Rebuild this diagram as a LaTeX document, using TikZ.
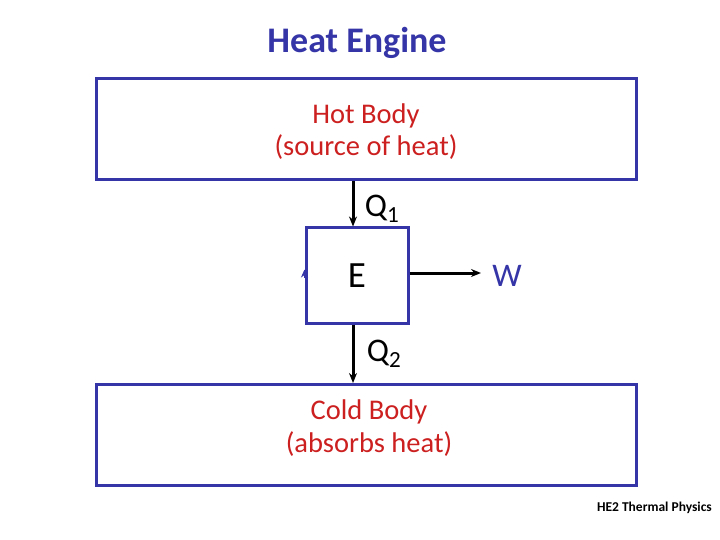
\documentclass[tikz,border=0pt]{standalone}
\usepackage{fontspec}
\setmainfont{Carlito}
\usepackage{tikz}
\usetikzlibrary{arrows.meta,calc,positioning}
\usepackage{xcolor}
\definecolor{navy}{HTML}{3535A8}
\definecolor{heatred}{HTML}{CC1F1F}

\begin{document}
\begin{tikzpicture}[>={Stealth[length=10pt,width=8pt]},x=1pt,y=-1pt,
  body/.style={draw=navy,line width=3pt,minimum width=540pt,minimum height=101pt,inner sep=0pt},
  bodytext/.style={align=center,text=heatred,font=\fontsize{28.5}{32.5}\selectfont},
  flow/.style={->,line width=3pt,black},
  lbl/.style={font=\fontsize{33}{36}\selectfont}]
  \useasboundingbox (0,0) rectangle (720,540);
  \node[font=\bfseries\fontsize{36}{40}\selectfont,text=navy] (title) at (357,43) {Heat Engine};
  \node[body] (hot) at (366,129.5) {};
  \node[bodytext] (hottext) at (366,131.5) {Hot Body\\(source of heat)};
  \node[body] (cold) at (366,435) {};
  \node[bodytext] (coldtext) at (369,428) {Cold Body\\(absorbs heat)};
  \node[draw=navy,line width=3pt,minimum width=102pt,minimum height=95pt,inner sep=0pt,
        font=\fontsize{37}{40}\selectfont] (e) at (357,275.5) {E};
  \coordinate (wend) at (481,273);
  \draw[flow] (hot.south -| 353,0) -- (e.north -| 353,0);
  \draw[flow] (e.south -| 353,0) -- (cold.north -| 353,0);
  \draw[flow] (e.east |- wend) -- (wend);
  \draw[-{Stealth[length=8pt,width=7pt]},navy,line width=0.6pt] ($(e.west)+(0,2)$) -- ($(e.west)+(0,-6)$);
  \node[lbl] (q1) at (382,209) {Q\textsubscript{1}};
  \node[lbl] (q2) at (384,354) {Q\textsubscript{2}};
  \node[lbl,text=navy] (w) at (507,276) {W};
  \node[anchor=east,font=\bfseries\fontsize{13.5}{15}\selectfont,inner sep=0pt] (foot) at (712,508) {HE2 Thermal Physics};
\end{tikzpicture}
\end{document}
